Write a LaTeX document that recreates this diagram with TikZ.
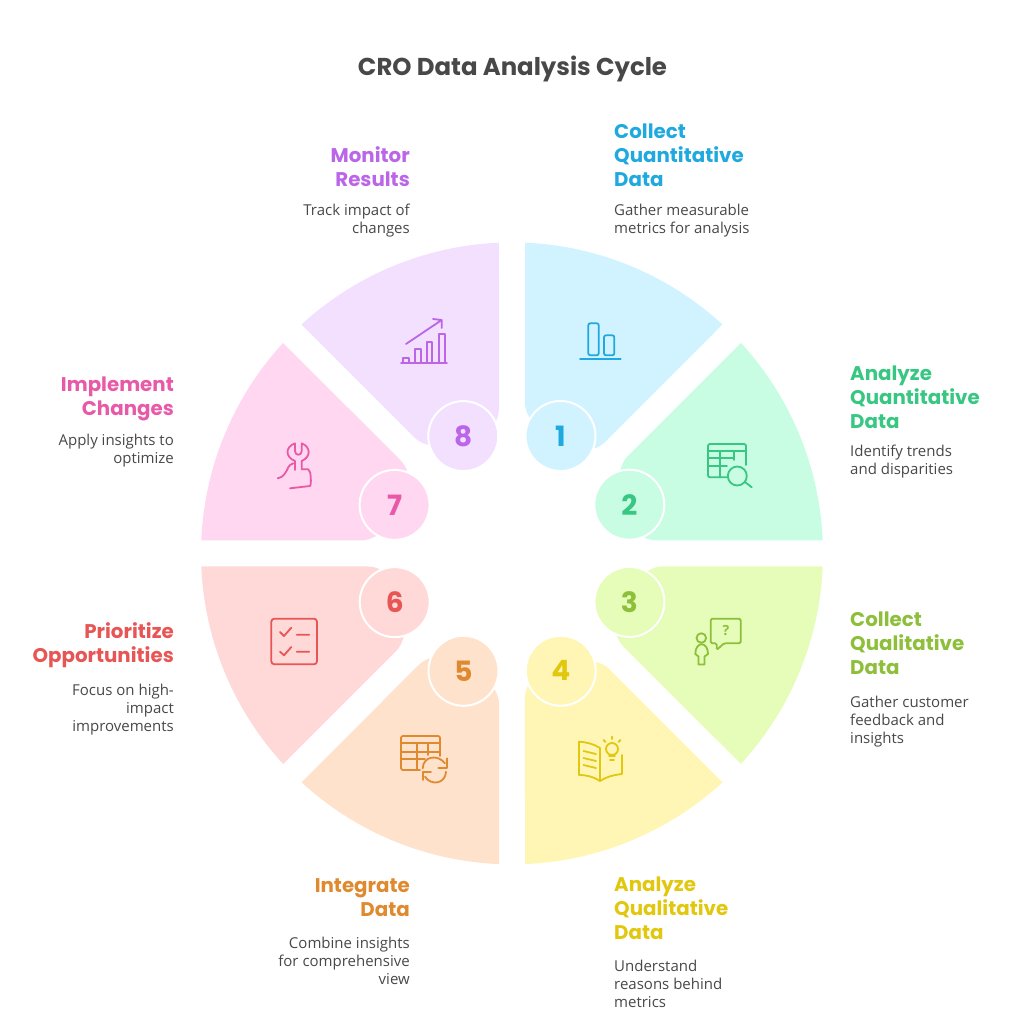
\documentclass[tikz,border=0pt]{standalone}
\usepackage{fontspec}
\setmainfont{Poppins}
\newfontfamily\bodyfont{Open Sans}
\definecolor{fillA}{HTML}{D1F3FF}\definecolor{inkA}{HTML}{1FA9DF}
\definecolor{fillB}{HTML}{C8FDE3}\definecolor{inkB}{HTML}{38C782}
\definecolor{fillC}{HTML}{E5FDB8}\definecolor{inkC}{HTML}{8DBF3A}
\definecolor{fillD}{HTML}{FFF6B5}\definecolor{inkD}{HTML}{E2C70F}
\definecolor{fillE}{HTML}{FFE2CC}\definecolor{inkE}{HTML}{E08A30}
\definecolor{fillF}{HTML}{FFD8D8}\definecolor{inkF}{HTML}{E85555}
\definecolor{fillG}{HTML}{FFD7F0}\definecolor{inkG}{HTML}{E85AA8}
\definecolor{fillH}{HTML}{F3E0FF}\definecolor{inkH}{HTML}{BB66E8}
\definecolor{inkText}{HTML}{484848}
\tikzset{
    numdisc/.style={circle,draw=white,line width=2pt,minimum size=70pt,inner sep=0pt,font=\fontsize{28}{28}\selectfont\bfseries},
    headL/.style={anchor=north west,align=left,inner sep=0pt,font=\fontsize{19.8}{24}\selectfont\bfseries},
    headR/.style={anchor=north east,align=right,inner sep=0pt,font=\fontsize{19.8}{24}\selectfont\bfseries},
    bodyL/.style={anchor=north west,align=left,inner sep=0pt,text=inkText,font=\bodyfont\fontsize{15}{18}\selectfont},
    bodyR/.style={anchor=north east,align=right,inner sep=0pt,text=inkText,font=\bodyfont\fontsize{15}{18}\selectfont},
    icon/.style={line width=1.8pt,line cap=round,line join=round},
    }
\begin{document}
\begin{tikzpicture}[x=1pt,y=-1pt]
	\useasboundingbox (0,0) rectangle (1024,1024);
	\node[inner sep=0pt,text=inkText,font=\fontsize{24.4}{28}\selectfont\bfseries] (title) at (512.5,69) {CRO Data Analysis Cycle};
	% sectors and numbers
	\foreach \n/\c in {1/A,2/B,3/C,4/D,5/E,6/F,7/G,8/H}{
	\begin{scope}[shift={(512,553.4)},rotate=-45*(\n-1)]
		\fill[fill\c] (13,-310.7) arc[start angle=-87.6,end angle=-47.4,radius=311]
			-- (96.5,-114.8) .. controls (91,-109) and (87,-106.5) .. (83,-105) -- (48.5,-117.4)
			-- (18,-135) .. controls (15,-140) and (13,-145) .. (13,-150) -- cycle;
		\node[numdisc,fill=fill\c,text=ink\c] (num\n) at (48.5,-117.4) {\n};
	\end{scope}
	}
	% labels
	\node[headL,text=inkA] (headA) at (614,124) {Collect\\Quantitative\\Data};
	\node[bodyL] (bodyA) at (614,203.5) {Gather measurable\\metrics for analysis};
	\node[headL,text=inkB] (headB) at (850,365.5) {Analyze\\Quantitative\\Data};
	\node[bodyL] (bodyB) at (850,444.5) {Identify trends\\and disparities};
	\node[headL,text=inkC] (headC) at (850,612) {Collect\\Qualitative\\Data};
	\node[bodyL] (bodyC) at (850,695.5) {Gather customer\\feedback and\\insights};
	\node[headL,text=inkD] (headD) at (614,877) {Analyze\\Qualitative\\Data};
	\node[bodyL] (bodyD) at (614,959.5) {Understand\\reasons behind\\metrics};
	\node[headR,text=inkE] (headE) at (410,878) {Integrate\\Data};
	\node[bodyR] (bodyE) at (410,936.5) {Combine insights\\for comprehensive\\view};
	\node[headR,text=inkF] (headF) at (174,622) {Prioritize\\Opportunities};
	\node[bodyR] (bodyF) at (174,683.5) {Focus on high-\\impact\\improvements};
	\node[headR,text=inkG] (headG) at (174,377) {Implement\\Changes};
	\node[bodyR] (bodyG) at (174,433.5) {Apply insights to\\optimize};
	\node[headR,text=inkH] (headH) at (410,146) {Monitor\\Results};
	\node[bodyR] (bodyH) at (410,203.5) {Track impact of\\changes};
	% icon 1
	\draw[icon,inkA,rounded corners=2pt] (588.3,323.3) rectangle (598.7,355.3) (604,335.3) rectangle (614.3,355.3);
	\draw[icon,inkA] (580,358.7) -- (620.7,358.7);
	% icon 2
	\draw[icon,inkB,rounded corners=2pt] (727,477.3) -- (708,477.3) -- (708,444) -- (746,444) -- (746,465);
	\draw[icon,inkB] (708,450.7) -- (746,450.7) (708,458.3) -- (733,458.3) (708,465.7) -- (727,465.7) (720,450.7) -- (720,477) (734.3,450.7) -- (734.3,460);
	\draw[icon,inkB] (737.3,476) circle (9.5) (745,482) -- (751.7,487.3);
	% icon 3
	\draw[icon,inkC,rounded corners=1.5pt] (716.7,643.3) -- (710.7,643.3) -- (710.7,618.7) -- (740.7,618.7) -- (740.7,643.3) -- (724,643.3) -- (716.7,650) -- cycle;
	\node[inner sep=0pt,text=inkC,font=\bodyfont\bfseries\fontsize{14}{14}\selectfont] (quest) at (726,631) {?};
	\draw[icon,inkC] (701.3,638) circle (4.8);
	\draw[icon,inkC] (695.3,654) .. controls (695.3,641) and (708,641) .. (708,654) -- (704.5,656.5) -- (704.5,664.5) -- (698.5,664.5) -- (698.5,656.5) -- cycle;
	% icon 4
	\draw[icon,inkD] (600,748) .. controls (594,744) and (586,742) .. (579,741.7) -- (579,775) .. controls (587,775) and (594,777) .. (600,781) .. controls (606,777) and (613,775) .. (622,774) -- (622,755) (600,748) -- (600,781);
	\draw[icon,inkD] (583.5,751) -- (596,754) (583.5,758) -- (596,761) (583.5,765) -- (596,768);
	\draw[icon,inkD] (612,749) circle (6) (609,756) -- (615,756) (610,760) -- (614,760) (612,736.5) -- (612,739) (603.5,740) -- (605.5,742) (620.5,740) -- (618.5,742);
	% icon 5
	\draw[icon,inkE,rounded corners=2pt] (420,770) -- (401,770) -- (401,736) -- (440,736) -- (440,756);
	\draw[icon,inkE] (401,743.3) -- (440,743.3) (401,751.7) -- (440,751.7) (401,759.3) -- (425,759.3) (416.7,743.3) -- (416.7,770) (428.3,743.3) -- (428.3,755);
	\draw[icon,inkE] (422.7,768.3) .. controls (423,756) and (438,754) .. (445,763.3) (446,771.7) .. controls (445.5,784) and (431,786) .. (425,776.7);
	\draw[icon,inkE] (446.7,758.3) -- (446.7,768.3) -- (438.3,768.3) (423.3,771.7) -- (423.3,780) (423.3,771.7) -- (431,771.7);
	% icon 6
	\draw[icon,inkF,rounded corners=3pt] (271.3,618.7) rectangle (317,664.3);
	\draw[icon,inkF] (280,632) -- (284,636) -- (291.3,627.7) (296.7,634.7) -- (309.3,634.7) (280,651.7) -- (284,655.3) -- (291.3,647) (296.7,651.7) -- (309.3,651.7);
	% icon 7
	\draw[icon,inkG] (295,470) -- (295,461) .. controls (285,457) and (285,447) .. (295,443.3) -- (295,451) .. controls (295,456) and (301.7,456) .. (301.7,451) -- (301.7,443.3) .. controls (311,447) and (311,457) .. (301.7,461) -- (301.7,469.3);
	\draw[icon,inkG] (277.7,478.3) .. controls (284,477) and (285,473) .. (287,470) .. controls (289,465) and (291,464) .. (293.3,463.3);
	\draw[icon,inkG] (301.7,469.3) -- (308.3,469.3) .. controls (311,471) and (310,474) .. (310.7,477) .. controls (311,481) and (311,485) .. (310,486) -- (290,488.3);
	% icon 8
	\draw[icon,inkH] (401,363.3) -- (447,363.3) (403.3,363) -- (403.3,357.7) -- (408.7,357.7) -- (408.7,363) (415,363) -- (415,349.3) -- (420.7,349.3) -- (420.7,363) (426.7,363) -- (426.7,341.7) -- (432.3,341.7) -- (432.3,363) (439,363) -- (439,334) -- (444.7,334) -- (444.7,363);
	\draw[icon,inkH] (406,344) -- (441.7,320) (433,319) -- (441.7,320) -- (441.7,328);
\end{tikzpicture}
\end{document}
